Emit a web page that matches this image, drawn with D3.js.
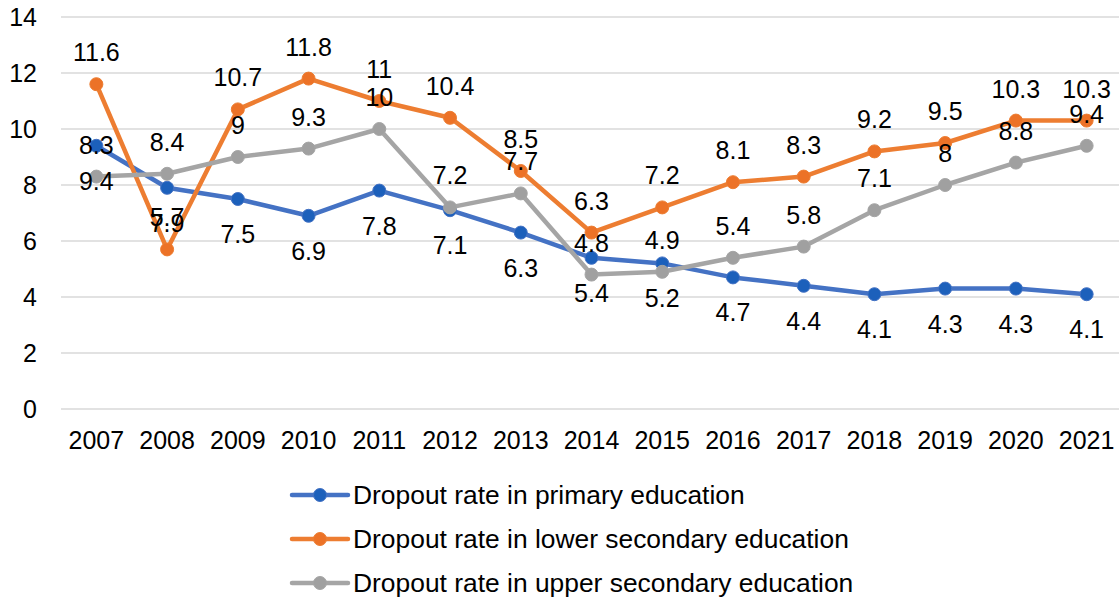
<!DOCTYPE html>
<html lang="en">
<head>
    <meta charset="UTF-8">
    <title>Dropout rates</title>
    <script src="https://d3js.org/d3.v7.min.js"></script>
    <style>
        body { margin: 0; background: #fff; }
        text { font-family: "Liberation Sans", Arial, sans-serif; fill: #000; }
    </style>
</head>
<body>
    <svg width="1119" height="603"></svg>
    <script>
        const years = ["2007", "2008", "2009", "2010", "2011", "2012", "2013", "2014",
                       "2015", "2016", "2017", "2018", "2019", "2020", "2021"];
        const primary = [9.4, 7.9, 7.5, 6.9, 7.8, 7.1, 6.3, 5.4, 5.2, 4.7, 4.4, 4.1, 4.3, 4.3, 4.1];
        const lowerSecondary = [11.6, 5.7, 10.7, 11.8, 11, 10.4, 8.5, 6.3, 7.2, 8.1, 8.3, 9.2, 9.5, 10.3, 10.3];
        const upperSecondary = [8.3, 8.4, 9, 9.3, 10, 7.2, 7.7, 4.8, 4.9, 5.4, 5.8, 7.1, 8, 8.8, 9.4];
        const yTicks = [0, 2, 4, 6, 8, 10, 12, 14];
        const seriesNames = ["Dropout rate in primary education",
                             "Dropout rate in lower secondary education",
                             "Dropout rate in upper secondary education"];

        const series = [
            { name: seriesNames[0], values: primary, line: "#4472C4", marker: "#1c60bb", dy: 35 },
            { name: seriesNames[1], values: lowerSecondary, line: "#ED7D31", marker: "#ec7227", dy: -32 },
            { name: seriesNames[2], values: upperSecondary, line: "#A5A5A5", marker: "#a0a0a0", dy: -32 }
        ];

        const svg = d3.select("svg");

        const x = d3.scaleBand().domain(years).range([61, 1122]);
        const y = d3.scaleLinear().domain([0, 14]).range([409, 17]);

        // gridlines
        svg.append("g").selectAll("line")
            .data(yTicks)
            .enter()
            .append("line")
            .attr("x1", 61).attr("x2", 1119)
            .attr("y1", d => y(d)).attr("y2", d => y(d))
            .attr("stroke", "#d9d9d9")
            .attr("stroke-width", 1.5);

        // y tick labels
        svg.append("g").selectAll("text")
            .data(yTicks)
            .enter()
            .append("text")
            .attr("x", 37)
            .attr("y", d => y(d))
            .attr("text-anchor", "end")
            .attr("dominant-baseline", "central")
            .attr("font-size", 25)
            .text(d => d);

        // x tick labels
        svg.append("g").selectAll("text")
            .data(years)
            .enter()
            .append("text")
            .attr("x", d => x(d) + x.bandwidth() / 2)
            .attr("y", 440)
            .attr("text-anchor", "middle")
            .attr("dominant-baseline", "central")
            .attr("font-size", 25)
            .text(d => d);

        const line = d3.line()
            .x((d, i) => x(years[i]) + x.bandwidth() / 2)
            .y(d => y(d));

        series.forEach(function (s) {
            const g = svg.append("g");
            g.append("path")
                .attr("d", line(s.values))
                .attr("fill", "none")
                .attr("stroke", s.line)
                .attr("stroke-width", 4.5)
                .attr("stroke-linejoin", "round");
            g.selectAll("circle")
                .data(s.values)
                .enter()
                .append("circle")
                .attr("cx", (d, i) => x(years[i]) + x.bandwidth() / 2)
                .attr("cy", d => y(d))
                .attr("r", 6.5)
                .attr("fill", s.marker)
                .attr("stroke", s.line)
                .attr("stroke-width", 1);
        });

        // data labels on top of everything
        series.forEach(function (s) {
            svg.append("g").selectAll("text")
                .data(s.values)
                .enter()
                .append("text")
                .attr("x", (d, i) => x(years[i]) + x.bandwidth() / 2)
                .attr("y", d => y(d) + s.dy)
                .attr("text-anchor", "middle")
                .attr("dominant-baseline", "central")
                .attr("font-size", 25)
                .text(d => d);
        });

        // legend
        const legend = svg.append("g").selectAll("g")
            .data(series)
            .enter()
            .append("g")
            .attr("transform", (d, i) => "translate(0," + (495 + i * 44) + ")");
        legend.append("line")
            .attr("x1", 292).attr("x2", 348)
            .attr("stroke", d => d.line)
            .attr("stroke-width", 4.5)
            .attr("stroke-linecap", "round");
        legend.append("circle")
            .attr("cx", 320)
            .attr("r", 6.5)
            .attr("fill", d => d.marker)
            .attr("stroke", d => d.line);
        legend.append("text")
            .attr("x", 353)
            .attr("dominant-baseline", "central")
            .attr("font-size", 26.4)
            .text(d => d.name);
    </script>
</body>
</html>
